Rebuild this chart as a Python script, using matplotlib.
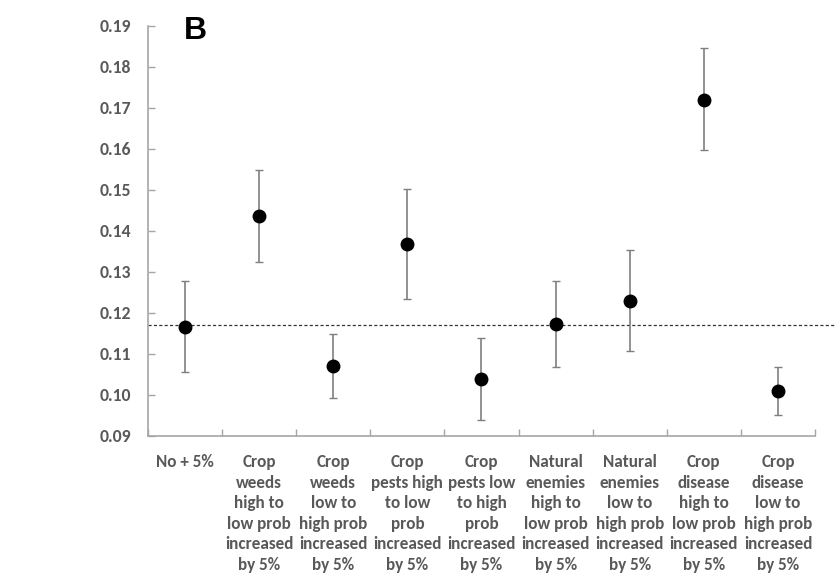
import matplotlib
matplotlib.use("Agg")
import matplotlib.pyplot as plt
from matplotlib.ticker import FixedLocator, FixedFormatter, NullFormatter

categories = [
    "No + 5%",
    "Crop\nweeds\nhigh to\nlow prob\nincreased\nby 5%",
    "Crop\nweeds\nlow to\nhigh prob\nincreased\nby 5%",
    "Crop\npests high\nto low\nprob\nincreased\nby 5%",
    "Crop\npests low\nto high\nprob\nincreased\nby 5%",
    "Natural\nenemies\nhigh to\nlow prob\nincreased\nby 5%",
    "Natural\nenemies\nlow to\nhigh prob\nincreased\nby 5%",
    "Crop\ndisease\nhigh to\nlow prob\nincreased\nby 5%",
    "Crop\ndisease\nlow to\nhigh prob\nincreased\nby 5%",
]
means = [0.1167, 0.1437, 0.1070, 0.1368, 0.1038, 0.1172, 0.1230, 0.1720, 0.1010]
upper = [0.1277, 0.1549, 0.1149, 0.1502, 0.1138, 0.1278, 0.1353, 0.1846, 0.1068]
lower = [0.1055, 0.1325, 0.0993, 0.1234, 0.0939, 0.1068, 0.1108, 0.1597, 0.0951]
baseline = 0.1171
yticks = [0.09, 0.10, 0.11, 0.12, 0.13, 0.14, 0.15, 0.16, 0.17, 0.18, 0.19]
ytick_labels = ["0.09", "0.10", "0.11", "0.12", "0.13", "0.14", "0.15", "0.16", "0.17", "0.18", "0.19"]
panel_label = "B"

FONT = ["Carlito", "Liberation Sans", "DejaVu Sans"]
GRAY_TXT = "#595959"
GRAY_AX = "#a6a6a6"

fig = plt.figure(figsize=(8.35, 5.73), dpi=100)
ax = fig.add_axes([148 / 835, 1 - 436 / 573, (815 - 148) / 835, (436 - 26) / 573])

x = list(range(len(categories)))
yerr_lo = [m - l for m, l in zip(means, lower)]
yerr_hi = [u - m for m, u in zip(means, upper)]
ax.errorbar(x, means, yerr=[yerr_lo, yerr_hi], fmt="o", color="black",
            ms=9, ecolor="#7f7f7f", elinewidth=1.2, capsize=2.6, capthick=1.0, zorder=3)

ax.plot([-0.5, len(categories) - 0.5 + 0.25], [baseline, baseline], ls=(0, (2.5, 1.8)),
        color="#333333", lw=0.9, clip_on=False, zorder=2)

ax.set_xlim(-0.5, len(categories) - 0.5)
ax.set_ylim(0.09, 0.19)

ax.yaxis.set_major_locator(FixedLocator(yticks))
ax.yaxis.set_major_formatter(FixedFormatter(ytick_labels))

bounds = [i - 0.5 for i in range(len(categories) + 1)]
ax.xaxis.set_major_locator(FixedLocator(bounds))
ax.xaxis.set_major_formatter(NullFormatter())
ax.xaxis.set_minor_locator(FixedLocator(x))
ax.xaxis.set_minor_formatter(FixedFormatter(categories))

for s in ["top", "right"]:
    ax.spines[s].set_visible(False)
for s in ["left", "bottom"]:
    ax.spines[s].set_color(GRAY_AX)
    ax.spines[s].set_linewidth(1.2)

ax.tick_params(axis="y", direction="in", length=5, width=1, color=GRAY_AX, pad=12,
               labelsize=12.8, labelcolor=GRAY_TXT)
ax.tick_params(axis="x", which="major", direction="in", length=5, width=1, color=GRAY_AX)
ax.tick_params(axis="x", which="minor", length=0, pad=13, labelsize=12.3, labelcolor=GRAY_TXT)

for lab in ax.get_yticklabels():
    lab.set_fontfamily(FONT)
    lab.set_fontweight("bold")
for lab in ax.xaxis.get_minorticklabels():
    lab.set_fontfamily(FONT)
    lab.set_fontweight("bold")
    lab.set_linespacing(1.35)
    lab.set_verticalalignment("top")
    lab.set_multialignment("center")

fig.text(195 / 835, 1 - 31 / 573, panel_label, fontsize=23, fontweight="bold",
         family=["Liberation Sans", "DejaVu Sans"], ha="center", va="center", color="black")

fig.savefig("out.png", dpi=100, facecolor="white")
